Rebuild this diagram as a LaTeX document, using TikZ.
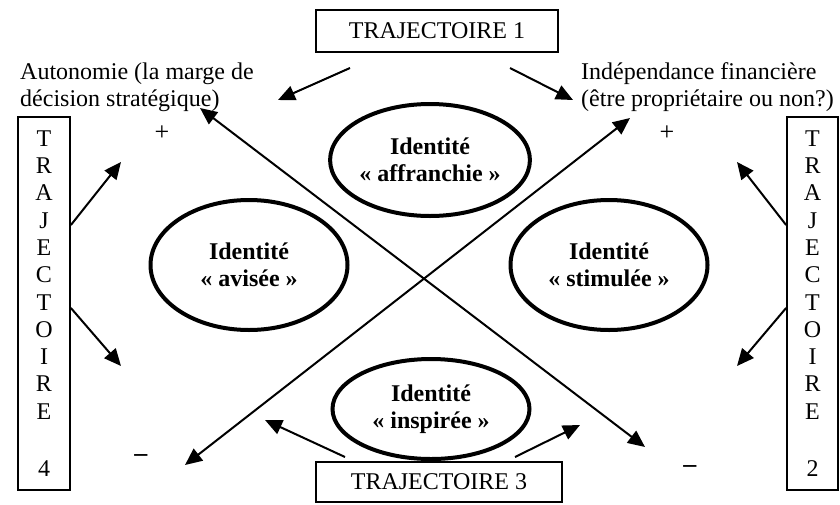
\documentclass[tikz,border=0pt]{standalone}
\usepackage{fontspec}
\setmainfont{Liberation Serif}
\usetikzlibrary{positioning,calc,arrows.meta,shapes.geometric}

\begin{document}
\begin{tikzpicture}[x=1pt, y=-1pt,
		every node/.style={font=\fontsize{24}{27.3}\selectfont, inner sep=0pt},
		trajbox/.style={draw, line width=1.8pt, align=center},
		identite/.style={ellipse, draw, line width=4pt, align=center, minimum width=197pt, font=\fontsize{24}{27.3}\selectfont\bfseries},
		signe/.style={font=\fontsize{26}{28}\selectfont},
		fleche/.style={-{Triangle[length=17pt,width=15pt]}, line width=2pt},
		double fleche/.style={{Triangle[length=17pt,width=15pt]}-{Triangle[length=17pt,width=15pt]}, line width=2pt}]
		\useasboundingbox (0,0) rectangle (840,504);
		\node[trajbox, minimum width=242pt, minimum height=42pt] (Traj1) at (437,31) {TRAJECTOIRE 1};
		\node[trajbox, minimum width=246pt, minimum height=40pt] (Traj3) at (439,482) {TRAJECTOIRE 3};
		\node[trajbox, minimum width=52pt, minimum height=373pt] (Traj4) at (44,303.5) {T\\R\\A\\J\\E\\C\\T\\O\\I\\R\\E\\[30pt]4};
		\node[trajbox, minimum width=51pt, minimum height=373pt] (Traj2) at (812.5,303.5) {T\\R\\A\\J\\E\\C\\T\\O\\I\\R\\E\\[30pt]2};
		\node[align=left, anchor=west] (Autonomie) at (20,87) {Autonomie (la marge de\\décision stratégique)};
		\node[align=left, anchor=west] (Independance) at (581,87) {Indépendance financière\\(être propriétaire ou non?)};
		\node[identite, minimum height=112pt] (Affranchie) at (430,160) {Identité\\« affranchie »};
		\node[identite, minimum height=130pt] (Avisee) at (249,265) {Identité\\« avisée »};
		\node[identite, minimum height=130pt] (Stimulee) at (609,265) {Identité\\« stimulée »};
		\node[identite, minimum height=100pt] (Inspiree) at (431,409) {Identité\\« inspirée »};
		\node[signe] (PlusG) at (162,133) {+};
		\node[signe] (PlusD) at (667,133) {+};
		\node[signe] (MoinsG) at (141,458) {\textbf{–}};
		\node[signe] (MoinsD) at (690,469) {\textbf{–}};
		\coordinate (AutoHaut) at (200,108);
		\coordinate (AutoBas) at (645,447);
		\coordinate (IndepHaut) at (630,118);
		\coordinate (IndepBas) at (185,465);
		\draw[double fleche] (AutoHaut) -- (AutoBas);
		\draw[double fleche] (IndepBas) -- (IndepHaut);
		\coordinate (T1g) at (350,68);
		\coordinate (T1gB) at (278,100);
		\coordinate (T1d) at (510,68);
		\coordinate (T1dB) at (573,100);
		\draw[fleche] (T1g) -- (T1gB);
		\draw[fleche] (T1d) -- (T1dB);
		\coordinate (T3g) at (345,457);
		\coordinate (T3gB) at (265,420);
		\coordinate (T3d) at (515,457);
		\coordinate (T3dB) at (580,425);
		\draw[fleche] (T3g) -- (T3gB);
		\draw[fleche] (T3d) -- (T3dB);
		\coordinate (T4h) at (Traj4.east |- 0,225);
		\coordinate (T4hB) at (121,162);
		\coordinate (T4b) at (Traj4.east |- 0,308);
		\coordinate (T4bB) at (121,366);
		\draw[fleche] (T4h) -- (T4hB);
		\draw[fleche] (T4b) -- (T4bB);
		\coordinate (T2h) at (Traj2.west |- 0,225);
		\coordinate (T2hB) at (737,162);
		\coordinate (T2b) at (Traj2.west |- 0,308);
		\coordinate (T2bB) at (737,366);
		\draw[fleche] (T2h) -- (T2hB);
		\draw[fleche] (T2b) -- (T2bB);
	\end{tikzpicture}
\end{document}
